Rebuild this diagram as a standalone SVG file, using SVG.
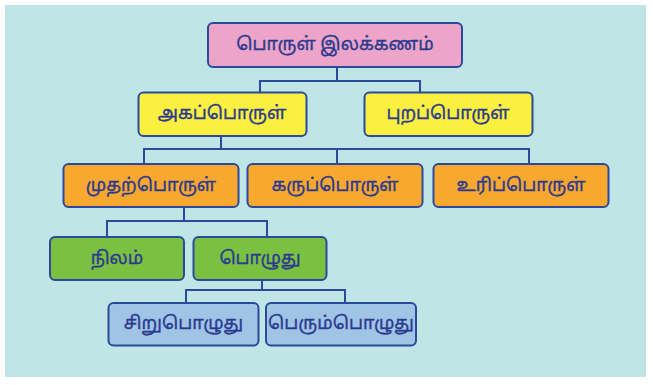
<svg xmlns="http://www.w3.org/2000/svg" width="653" height="385" viewBox="0 0 653 385">
<style>
.box{stroke:#2b4a9b;stroke-width:2}
.t{font-family:"Noto Sans Tamil","Latha","Lohit Tamil","Noto Sans",sans-serif;font-size:18px;fill:#2b3a8f;stroke:#2b3a8f;stroke-width:0.35;text-anchor:middle;dominant-baseline:central}
.c{fill:none;stroke:#2b4a9b;stroke-width:2}
.pink{fill:#eca4c8}.yel{fill:#fbf03f}.org{fill:#f9a82f}.grn{fill:#7ac142}.blu{fill:#9fc4e6}
</style>
<rect x="5" y="5" width="641" height="372" fill="#bfe5e7"/>
<g id="connectors" class="c">
<path d="M337,67 V81 M260,93 V81 H420 V93"/>
<path d="M221,136 V149 M144,164 V149 H529 V164 M337,149 V164"/>
<path d="M184,207 V221 M107,237 V221 H267 V237"/>
<path d="M262,280 V290 M186,303 V290 H345 V303"/>
</g>
<g id="root"><rect class="box pink" x="208" y="23" width="254" height="44" rx="5"/><text class="t" x="335" y="45.5">பொருள் இலக்கணம்</text></g>
<g id="akam"><rect class="box yel" x="138.5" y="92.5" width="168" height="43.5" rx="5"/><text class="t" x="222" y="114.5">அகப்பொருள்</text></g>
<g id="puram"><rect class="box yel" x="364.5" y="92.5" width="168" height="43.5" rx="5"/><text class="t" x="448" y="114.5">புறப்பொருள்</text></g>
<g id="muthal"><rect class="box org" x="63.5" y="164" width="175" height="43" rx="5"/><text class="t" x="151" y="186">முதற்பொருள்</text></g>
<g id="karu"><rect class="box org" x="247.5" y="164" width="175" height="43" rx="5"/><text class="t" x="335" y="186">கருப்பொருள்</text></g>
<g id="uri"><rect class="box org" x="433.5" y="164" width="175" height="43" rx="5"/><text class="t" x="521" y="186">உரிப்பொருள்</text></g>
<g id="nilam"><rect class="box grn" x="50" y="237" width="134" height="43" rx="5"/><text class="t" x="117" y="259">நிலம்</text></g>
<g id="pozhuthu"><rect class="box grn" x="193.5" y="237" width="133" height="43" rx="5"/><text class="t" x="260" y="259">பொழுது</text></g>
<g id="siru"><rect class="box blu" x="108.5" y="303" width="150" height="42.5" rx="5"/><text class="t" x="183.5" y="324.5">சிறுபொழுது</text></g>
<g id="perum"><rect class="box blu" x="266" y="303" width="150" height="42.5" rx="5"/><text class="t" x="341" y="324.5">பெரும்பொழுது</text></g>
</svg>
